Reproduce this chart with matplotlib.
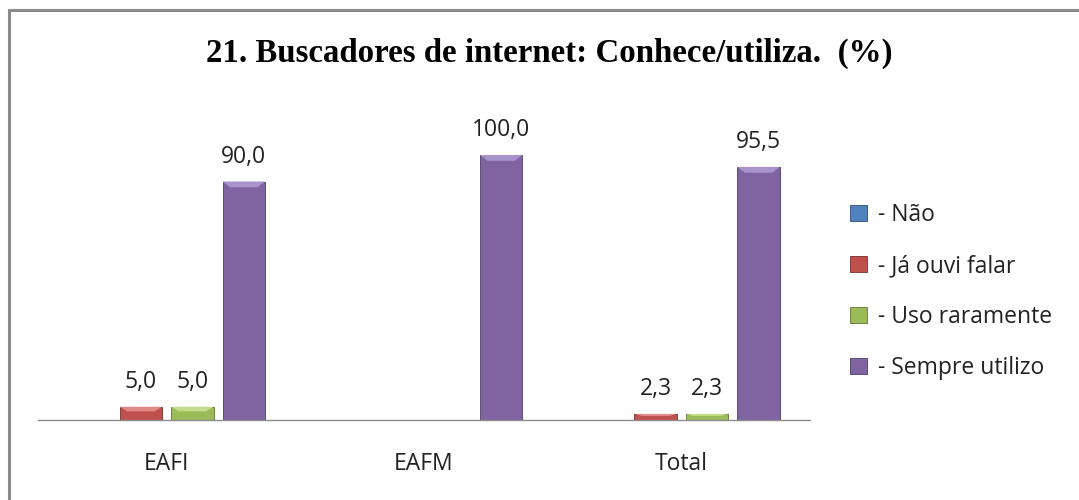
import numpy as np
import matplotlib.pyplot as plt
from matplotlib.patches import Rectangle, Polygon

# dados (%)
grupos = ['EAFI', 'EAFM', 'Total']
series = ['- Não', '- Já ouvi falar', '- Uso raramente', '- Sempre utilizo']
nao = [0.0, 0.0, 0.0]
ja_ouvi = [5.0, 0.0, 2.3]
raramente = [5.0, 0.0, 2.3]
sempre = [90.0, 100.0, 95.5]

cores = ['#4F81BD', '#C0504D', '#9BBB59', '#8064A2']
bordas = ['#2C4D75', '#772C2A', '#5F7530', '#4D3B62']
claras = ['#7FA6D6', '#E08A88', '#C3DC8A', '#A993CB']

fonte = ['Open Sans', 'DejaVu Sans']
tam = 16.5

fig = plt.figure(figsize=(10.79, 5.0), dpi=100)
# moldura do grafico
fig.patches.append(Rectangle((9 / 1079, -0.1), 1.2, 1 - 9.5 / 500 + 0.1,
                             transform=fig.transFigure, fill=False,
                             edgecolor='#8A8A8A', linewidth=2.2))

ax = fig.add_axes([38 / 1079, 80 / 500, 772 / 1079, 318 / 500])
x = np.arange(len(grupos))
larg = 0.165
passo = 0.2
dados = [nao, ja_ouvi, raramente, sempre]

for i, vals in enumerate(dados):
    pos = x + (i - 1.5) * passo
    barras = ax.bar(pos, vals, larg, color=cores[i], edgecolor=bordas[i],
                    linewidth=0.6, label=series[i], zorder=2)
    for b, v in zip(barras, vals):
        if v <= 0:
            continue
        # chanfro claro no topo da barra
        x0 = b.get_x()
        w = b.get_width()
        h = min(2.2, v * 0.35)
        ax.add_patch(Polygon([(x0, v), (x0 + w, v), (x0 + w * 0.82, v - h),
                              (x0 + w * 0.18, v - h)], closed=True,
                             facecolor=claras[i], edgecolor='none', zorder=3))
        ax.text(x0 + w / 2, v + 7.0, f'{v:.1f}'.replace('.', ','),
                ha='center', va='baseline', fontsize=tam, family=fonte,
                color='#222222')

ax.set_xlim(-0.5, 2.5)
ax.set_ylim(0, 120)
ax.set_yticks([])
ax.set_xticks(x)
ax.set_xticklabels(grupos, fontsize=tam, family=fonte, color='#222222')
ax.tick_params(axis='x', length=0, pad=23)
for lado in ['top', 'right', 'left']:
    ax.spines[lado].set_visible(False)
ax.spines['bottom'].set_color('#8C8C8C')
ax.spines['bottom'].set_linewidth(1.0)

fig.text(0.509, 0.893, '21. Buscadores de internet: Conhece/utiliza.  (%)',
         ha='center', va='center', fontsize=23.7, fontweight='bold',
         family=['Liberation Serif', 'DejaVu Serif'], color='black')

leg = fig.legend(*ax.get_legend_handles_labels(), loc='center left',
                 bbox_to_anchor=(841 / 1079, 1 - 291.5 / 500), frameon=False,
                 borderaxespad=0, prop={'family': 'Open Sans', 'size': tam},
                 handlelength=0.72, handleheight=0.72, handletextpad=0.5,
                 labelspacing=1.17)
for t in leg.get_texts():
    t.set_color('#222222')

fig.savefig('out.png', dpi=100)
